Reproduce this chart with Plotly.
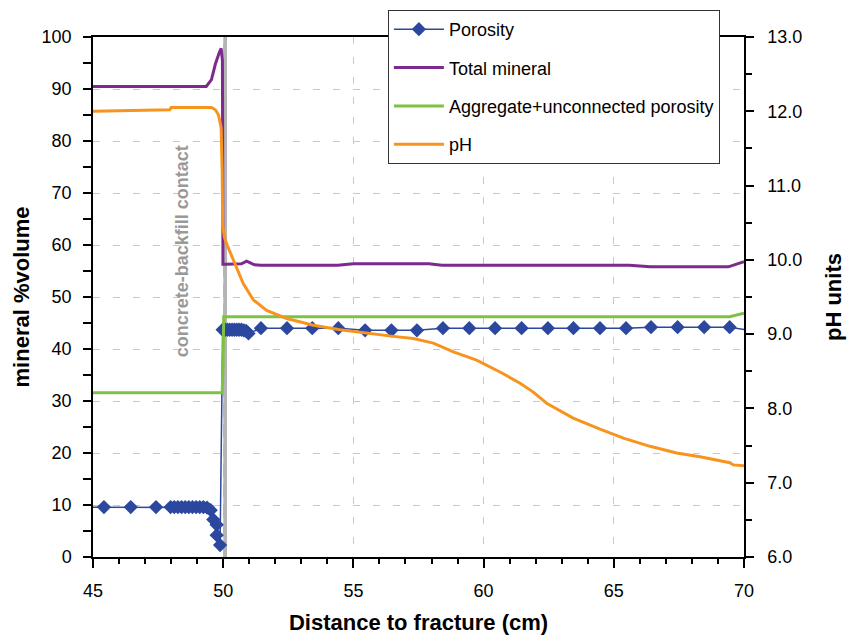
import plotly.graph_objects as go

# ---------------- data ----------------
por_x = [44.4, 45.42, 46.45, 47.42, 47.98, 48.12, 48.26, 48.40, 48.54, 48.68, 48.82, 48.96,
         49.10, 49.24, 49.38, 49.52, 49.62, 49.75, 49.75, 49.88, 49.98, 50.07, 50.16,
         50.25, 50.34, 50.43, 50.52, 50.61, 50.70, 50.79, 50.88, 50.97, 51.45, 52.45, 53.42,
         54.42, 55.45, 56.46, 57.44, 58.44, 59.45, 60.44, 61.46, 62.47, 63.45, 64.47, 65.47,
         66.43, 67.45, 68.47, 69.45, 70.4]
por_y = [9.6, 9.6, 9.6, 9.6, 9.6, 9.6, 9.6, 9.6, 9.6, 9.6, 9.6, 9.6,
         9.6, 9.6, 9.5, 9.0, 7.2, 6.2, 4.2, 2.3, 43.7, 43.7, 43.7,
         43.7, 43.7, 43.7, 43.7, 43.7, 43.7, 43.6, 43.5, 43.0, 44.0, 44.0, 44.0,
         44.0, 43.6, 43.6, 43.6, 44.0, 44.0, 44.0, 44.0, 44.0, 44.0, 44.0, 44.0,
         44.2, 44.2, 44.2, 44.2, 43.4]

min_x = [45.0, 49.35, 49.55, 49.70, 49.85, 49.92, 49.97, 49.99, 50.10, 50.70, 50.90, 51.20,
         51.45, 54.40, 55.00, 57.90, 58.40, 65.60, 66.40, 69.40, 70.0]
min_y = [90.5, 90.5, 91.8, 94.8, 97.0, 97.8, 95.5, 56.3, 56.3, 56.4, 56.9, 56.2,
         56.1, 56.1, 56.4, 56.4, 56.1, 56.1, 55.8, 55.8, 56.8]

agg_x = [45.0, 49.96, 49.99, 50.02, 69.45, 70.0]
agg_y = [31.6, 31.6, 36.0, 46.2, 46.2, 46.9]

ph_x = [45.0, 46.5, 47.95, 48.0, 49.55, 49.70, 49.82, 49.92, 49.96, 49.98, 50.05, 50.15,
        50.39, 50.77, 51.16, 51.67, 52.44, 53.46, 54.49, 55.51, 56.53, 57.30, 58.07, 58.84,
        59.73, 60.63, 61.40, 61.91, 62.42, 63.44, 64.47, 65.37, 66.39, 67.41, 68.31, 69.46,
        69.59, 70.0]
ph_y = [12.0, 12.01, 12.02, 12.05, 12.05, 12.02, 11.95, 11.78, 11.2, 10.45, 10.3, 10.2,
        10.0, 9.68, 9.46, 9.32, 9.21, 9.12, 9.06, 9.01, 8.97, 8.94, 8.88, 8.76,
        8.65, 8.49, 8.34, 8.22, 8.07, 7.87, 7.72, 7.60, 7.49, 7.40, 7.35, 7.27,
        7.24, 7.23]

contact_x = 50.07
contact_label = "concrete-backfill contact"
contact_label_pos = (48.4, 58.7)

x_range = [45, 70]
y_range = [0, 100]
ph_range = [6, 13]

FONT = "Liberation Sans, Arial, sans-serif"
BLUE = "#2B479E"
PURPLE = "#7D2A8E"
GREEN = "#7DC243"
ORANGE = "#F7941E"

fig = go.Figure()
fig.add_trace(go.Scatter(x=por_x, y=por_y, name="Porosity", mode="lines+markers",
                         line=dict(color=BLUE, width=1.5),
                         marker=dict(symbol="diamond", size=11, color=BLUE),
                         legendgroup="a"))
fig.add_trace(go.Scatter(x=min_x, y=min_y, name="Total mineral", mode="lines",
                         line=dict(color=PURPLE, width=3), legendgroup="b"))
fig.add_trace(go.Scatter(x=agg_x, y=agg_y, name="Aggregate+unconnected porosity", mode="lines",
                         line=dict(color=GREEN, width=3), legendgroup="c"))
fig.add_trace(go.Scatter(x=ph_x, y=ph_y, name="pH", mode="lines", yaxis="y2",
                         line=dict(color=ORANGE, width=3), legendgroup="d"))

fig.add_shape(type="line", xref="x", yref="paper", x0=contact_x, x1=contact_x, y0=0, y1=1,
              line=dict(color="#B4B4B4", width=4), layer="between")

fig.add_annotation(x=contact_label_pos[0], y=contact_label_pos[1], xref="x", yref="y",
                   text="<b>" + contact_label + "</b>", textangle=-90, showarrow=False,
                   font=dict(family=FONT, size=18, color="#999999"))

grid = dict(gridcolor="#C8C8C8", gridwidth=1, griddash="7px,13px")

fig.update_layout(
    width=851, height=638,
    margin=dict(l=93, r=107, t=37, b=81, autoexpand=False),
    paper_bgcolor="white", plot_bgcolor="white",
    font=dict(family=FONT, size=18, color="black"),
    showlegend=True,
    legend=dict(x=0.453, y=1.052, xanchor="left", yanchor="top",
                bgcolor="white", bordercolor="#333333", borderwidth=1,
                font=dict(family=FONT, size=18, color="black"),
                traceorder="grouped", tracegroupgap=12, itemwidth=50),
    xaxis=dict(range=x_range, dtick=5, tick0=45, showline=True, linecolor="black", linewidth=1.5,
               mirror=True, ticks="outside", ticklen=9, tickwidth=1.5, tickcolor="black",
               showgrid=True, zeroline=False, ticklabelstandoff=8, automargin=False,
               minor=dict(dtick=1, ticks="outside", ticklen=5, tickwidth=1.5, tickcolor="black", showgrid=False),
               title=dict(text="<b>Distance to fracture (cm)</b>", font=dict(size=22), standoff=14),
               **grid),
    yaxis=dict(range=y_range, dtick=10, showline=True, linecolor="black", linewidth=1.5,
               ticks="outside", ticklen=8, tickwidth=1.5, tickcolor="black",
               showgrid=True, zeroline=False, ticklabelstandoff=8, automargin=False,
               minor=dict(dtick=5, ticks="outside", ticklen=8, tickwidth=1.5, tickcolor="black", showgrid=False),
               title=dict(text="<b>mineral %volume</b>", font=dict(size=22), standoff=6),
               **grid),
    yaxis2=dict(range=ph_range, dtick=1, overlaying="y", side="right", tickformat=".1f",
                showline=True, linecolor="black", linewidth=1.5,
                ticks="outside", ticklen=8, tickwidth=1.5, tickcolor="black",
                showgrid=False, zeroline=False, ticklabelstandoff=10, automargin=False,
                minor=dict(dtick=0.5, ticks="outside", ticklen=6, tickwidth=1.5, tickcolor="black", showgrid=False),
                title=dict(text="<b>pH units</b>", font=dict(size=22), standoff=24)),
)

fig.write_html("out.html")
